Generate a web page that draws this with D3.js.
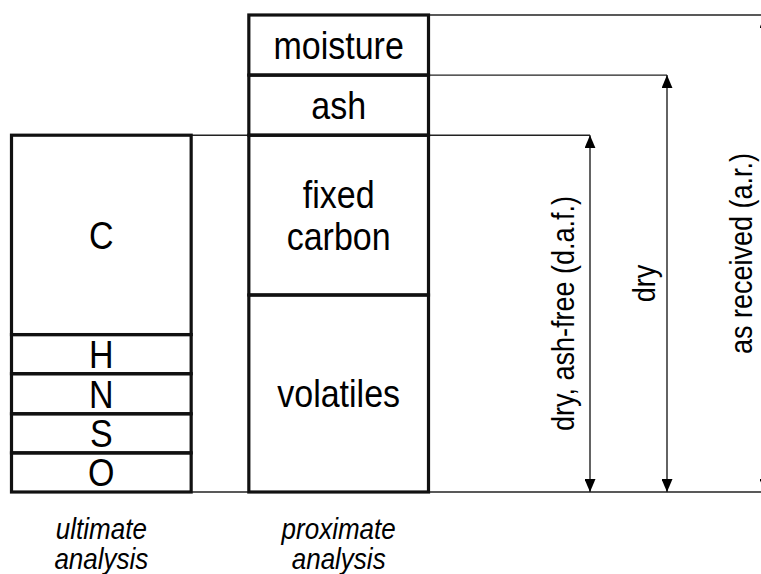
<!DOCTYPE html>
<html><head><meta charset="utf-8">
<script src="https://cdn.jsdelivr.net/npm/d3@7"></script>
<style>body{margin:0;background:#fff} svg text{font-family:"Liberation Sans",Arial,Helvetica,sans-serif;fill:#000}</style>
</head><body><svg id="c" width="761" height="574"></svg>
<script>
// ---- data (percent of as-received mass) ----
const ultimateLabels = ["C", "H", "N", "S", "O"];
const ultimateValues = [41.8, 8.2, 8.4, 8.2, 8.2];
const proximateLabels = ["moisture", "ash", "fixed carbon", "volatiles"];
const proximateValues = [12.6, 12.6, 33.5, 41.3];
const columnNames = ["ultimate", "proximate"];
const columnLabels = [["ultimate", "analysis"], ["proximate", "analysis"]];
const basisLabels = ["dry, ash-free (d.a.f.)", "dry", "as received (a.r.)"];
const basisStartIndex = [2, 1, 0]; // first proximate component included in the basis

// ---- layout ----
const svg = d3.select("#c");
const x = d3.scaleBand().domain(columnNames).range([11.5, 428.5]).paddingInner(0.243).paddingOuter(0);
const y = d3.scaleLinear().domain([0, 100]).range([492, 15]);
const bw = x.bandwidth();
const arrowX = [590, 667, 765];
const labelOffset = [16, 12, 13];
const stretch = 1.13;

function stackTopDown(values) {
  let t = d3.sum(values);
  return values.map(v => { const s = { y1: t, y0: t - v }; t -= v; return s; });
}
const ultStack = stackTopDown(ultimateValues);
const proxStack = stackTopDown(proximateValues);

// markers
const defs = svg.append("defs");
defs.append("marker").attr("id", "arr")
  .attr("viewBox", "0 0 13 11").attr("refX", 13).attr("refY", 5.5)
  .attr("markerWidth", 13).attr("markerHeight", 11)
  .attr("markerUnits", "userSpaceOnUse").attr("orient", "auto-start-reverse")
  .append("path").attr("d", "M0,0 L13,5.5 L0,11 Z").attr("fill", "#000");

const thin = svg.append("g").attr("stroke", "#222").attr("stroke-width", 1.4).attr("fill", "none");
// bottom baseline
thin.append("line").attr("x1", x("ultimate")).attr("x2", arrowX[2]).attr("y1", y(0)).attr("y2", y(0));
// basis top lines
basisStartIndex.forEach((si, i) => {
  const lvl = proxStack[si].y1;
  const x1 = i === 0 ? x("ultimate") + bw : x("proximate") + bw;
  thin.append("line").attr("x1", x1).attr("x2", arrowX[i]).attr("y1", y(lvl)).attr("y2", y(lvl));
});
// arrows
basisStartIndex.forEach((si, i) => {
  const lvl = proxStack[si].y1;
  thin.append("line").attr("x1", arrowX[i]).attr("x2", arrowX[i])
    .attr("y1", y(lvl)).attr("y2", y(0))
    .attr("marker-start", "url(#arr)").attr("marker-end", "url(#arr)");
});

// boxes
function drawColumn(name, stack, labels, fs) {
  const g = svg.append("g");
  g.selectAll("rect").data(stack).join("rect")
    .attr("x", x(name)).attr("width", bw)
    .attr("y", d => y(d.y1)).attr("height", d => y(d.y0) - y(d.y1))
    .attr("fill", "none").attr("stroke", "#111").attr("stroke-width", 3.2);
  g.selectAll("text").data(stack).join("text")
    .attr("text-anchor", "middle").attr("font-size", fs)
    .attr("transform", d => `translate(${x(name) + bw / 2},${(y(d.y0) + y(d.y1)) / 2}) scale(1,${stretch})`)
    .each(function (d, i) {
      const lines = labels[i].split(" ");
      const lh = 37;
      lines.forEach((ln, k) => {
        d3.select(this).append("tspan")
          .attr("x", 0)
          .attr("y", (k - (lines.length - 1) / 2) * lh)
          .attr("dy", "0.36em").text(ln);
      });
    });
}
drawColumn("ultimate", ultStack, ultimateLabels, 34);
drawColumn("proximate", proxStack, proximateLabels, 34);

// column captions (one text per line)
columnNames.forEach((n, i) => {
  columnLabels[i].forEach((ln, k) => {
    svg.append("text").attr("text-anchor", "middle").attr("font-size", 26).attr("font-style", "italic")
      .attr("transform", `translate(${x(n) + bw / 2},${539 + k * 30}) scale(1,${stretch})`)
      .text(ln);
  });
});

// basis labels (rotated)
basisStartIndex.forEach((si, i) => {
  const lvl = proxStack[si].y1;
  const cy = (y(lvl) + y(0)) / 2;
  const bx = arrowX[i] - labelOffset[i];
  svg.append("text").attr("text-anchor", "middle").attr("font-size", 27)
    .attr("transform", `translate(${bx},${cy}) rotate(-90) scale(1,${stretch})`).text(basisLabels[i]);
});
</script>
</body></html>
